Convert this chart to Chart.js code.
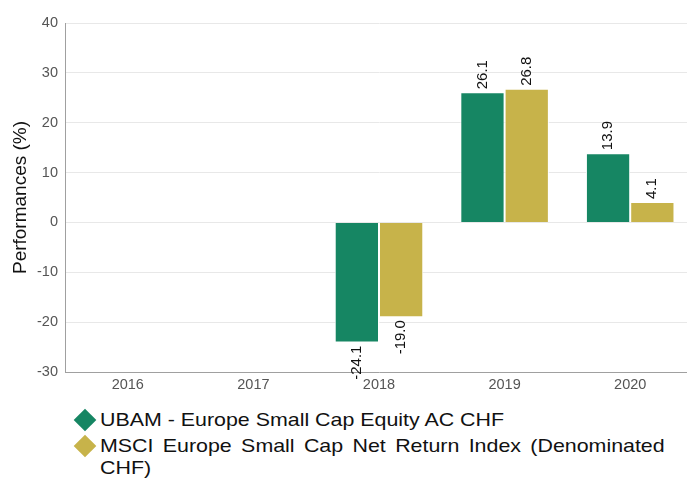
<!DOCTYPE html>
<html>
<head>
<meta charset="utf-8">
<script src="https://cdn.jsdelivr.net/npm/chart.js@4/dist/chart.umd.min.js"></script>
<style>
  * { margin: 0; padding: 0; box-sizing: border-box; }
  body { width: 687px; height: 478px; background: #fff; font-family: "Liberation Sans", Arial, sans-serif; position: relative; overflow: hidden; }
  #wrap { position: absolute; left: 0; top: 0; width: 693px; height: 395px; }
  .legend { position: absolute; left: 0; top: 409px; width: 687px; font-size: 18.6px; color: #111; line-height: 22px; }
  .item { position: relative; height: 22px; margin-bottom: 4px; }
  .item i { position: absolute; left: 76.5px; top: 3px; width: 16px; height: 16px; transform: rotate(45deg); }
  .txt { position: absolute; left: 100px; top: 0; width: 491px; transform: scaleX(1.15); transform-origin: 0 0; white-space: nowrap; }
  .j { display: block; width: 491px; white-space: normal; text-align: justify; text-align-last: justify; }
</style>
</head>
<body>
<div id="wrap"><canvas id="chart" width="693" height="395"></canvas></div>
<div class="legend" id="legend"></div>
<script>
const years = ["2016", "2017", "2018", "2019", "2020"];
const fundName = "UBAM - Europe Small Cap Equity AC CHF";
const indexName = "MSCI Europe Small Cap Net Return Index (Denominated CHF)";
const fundValues = [null, null, -24.1, 26.1, 13.9];
const indexValues = [null, null, -19.0, 26.8, 4.1];
const yTicks = [40, 30, 20, 10, 0, -10, -20, -30];

const GREEN = "#168663";
const GOLD = "#c7b34a";
const FONT = "'Liberation Sans', Arial, sans-serif";

const barLabels = {
  id: "barLabels",
  afterDatasetsDraw(chart) {
    const ctx = chart.ctx;
    ctx.save();
    ctx.font = "15px " + FONT;
    ctx.fillStyle = "#111";
    ctx.textBaseline = "middle";
    chart.data.datasets.forEach((ds, i) => {
      chart.getDatasetMeta(i).data.forEach((bar, j) => {
        const v = ds.data[j];
        if (v == null) return;
        ctx.save();
        ctx.translate(bar.x, bar.y + (v >= 0 ? -3 : 3));
        ctx.rotate(-Math.PI / 2);
        ctx.textAlign = v >= 0 ? "left" : "right";
        ctx.fillText(v.toFixed(1), 0, 0);
        ctx.restore();
      });
    });
    ctx.restore();
  }
};

new Chart(document.getElementById("chart"), {
  type: "bar",
  data: {
    labels: years,
    datasets: [
      { label: fundName, data: fundValues, backgroundColor: GREEN, borderColor: "#ffffff", borderWidth: 1 },
      { label: indexName, data: indexValues, backgroundColor: GOLD, borderColor: "#ffffff", borderWidth: 1 }
    ]
  },
  options: {
    responsive: false,
    animation: false,
    layout: { padding: { top: 23, right: 0, left: 0, bottom: 0 } },
    datasets: { bar: { barPercentage: 1, categoryPercentage: 0.705 } },
    plugins: { legend: { display: false }, tooltip: { enabled: false } },
    scales: {
      x: {
        grid: { display: false, drawTicks: false },
        border: { color: "#a0a0a0" },
        ticks: { color: "#555", font: { size: 14.5, family: FONT }, padding: 4 },
        afterFit(s) { s.height = 23; }
      },
      y: {
        min: -30, max: 40,
        afterBuildTicks(s) { s.ticks = yTicks.map(v => ({ value: v })); },
        grid: { color: "#e8e8e8", drawTicks: false },
        border: { color: "#a0a0a0" },
        ticks: { color: "#555", font: { size: 14.5, family: FONT }, padding: 7 },
        title: { display: true, text: "Performances (%)", color: "#111", font: { size: 19, family: FONT }, padding: { top: 9, bottom: 0 } },
        afterFit(s) { s.width = 65; }
      }
    }
  },
  plugins: [barLabels]
});

// legend: second entry wraps before "CHF)" with justified first line
const lastSpace = indexName.lastIndexOf(" ");
document.getElementById("legend").innerHTML =
  `<div class="item"><i style="background:${GREEN}"></i><div class="txt">${fundName}</div></div>` +
  `<div class="item"><i style="background:${GOLD}"></i><div class="txt"><span class="j">${indexName.slice(0, lastSpace)}</span>${indexName.slice(lastSpace + 1)}</div></div>`;
</script>
</body>
</html>
